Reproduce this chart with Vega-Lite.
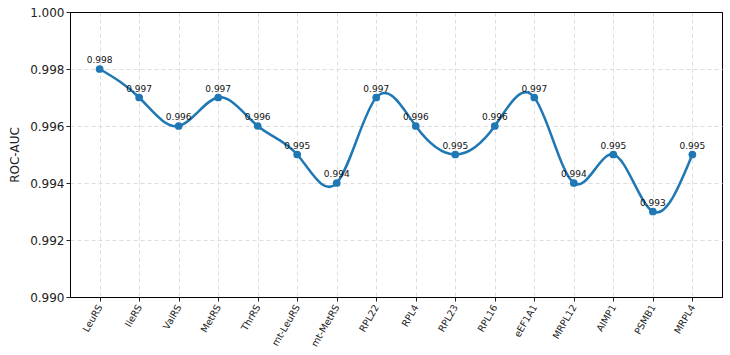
{
  "$schema": "https://vega.github.io/schema/vega-lite/v6.json",
  "width": 652,
  "height": 285,
  "autosize": {"type": "none"},
  "padding": {"left": 70, "top": 12, "right": 8, "bottom": 58},
  "background": "white",
  "config": {
    "view": {"stroke": "#000000", "strokeWidth": 1},
    "font": "DejaVu Sans"
  },
  "data": {
    "values": [
      {"gene": "LeuRS", "auc": 0.998},
      {"gene": "IleRS", "auc": 0.997},
      {"gene": "ValRS", "auc": 0.996},
      {"gene": "MetRS", "auc": 0.997},
      {"gene": "ThrRS", "auc": 0.996},
      {"gene": "mt-LeuRS", "auc": 0.995},
      {"gene": "mt-MetRS", "auc": 0.994},
      {"gene": "RPL22", "auc": 0.997},
      {"gene": "RPL4", "auc": 0.996},
      {"gene": "RPL23", "auc": 0.995},
      {"gene": "RPL16", "auc": 0.996},
      {"gene": "eEF1A1", "auc": 0.997},
      {"gene": "MRPL12", "auc": 0.994},
      {"gene": "AIMP1", "auc": 0.995},
      {"gene": "PSMB1", "auc": 0.993},
      {"gene": "MRPL4", "auc": 0.995}
    ]
  },
  "encoding": {
    "x": {
      "field": "gene", "type": "nominal", "sort": null,
      "scale": {"type": "point", "padding": 0.75},
      "axis": {
        "title": null, "labelAngle": -60, "labelFontSize": 9.5, "labelColor": "#222",
        "grid": true, "gridDash": [4, 3], "gridColor": "#dddddd",
        "domain": true, "domainColor": "#000000", "tickColor": "#222", "tickSize": 4, "labelPadding": 4
      }
    },
    "y": {
      "field": "auc", "type": "quantitative",
      "scale": {"domain": [0.99, 1.0], "nice": false, "zero": false},
      "axis": {
        "title": "ROC-AUC", "titleFontSize": 12, "titleFontWeight": "normal", "titleColor": "#222",
        "values": [0.99, 0.992, 0.994, 0.996, 0.998, 1.0], "format": ".3f",
        "labelFontSize": 12, "labelColor": "#222",
        "grid": true,
        "gridDash": {"condition": {"test": "datum.value >= 0.9999 || datum.value <= 0.9901", "value": []}, "value": [4, 3]},
        "gridColor": {"condition": {"test": "datum.value >= 0.9999 || datum.value <= 0.9901", "value": "#000000"}, "value": "#dddddd"},
        "domain": true, "domainColor": "#000000", "tickColor": "#222", "tickSize": 4, "titlePadding": 8
      }
    }
  },
  "layer": [
    {"mark": {"type": "line", "interpolate": "natural", "color": "#1f77b4", "strokeWidth": 2.5}},
    {"mark": {"type": "point", "filled": true, "opacity": 1, "color": "#1f77b4", "size": 60}},
    {"mark": {"type": "text", "dy": -9, "fontSize": 9, "color": "#111"},
     "encoding": {"text": {"field": "auc", "type": "quantitative", "format": ".3f"}}}
  ]
}
